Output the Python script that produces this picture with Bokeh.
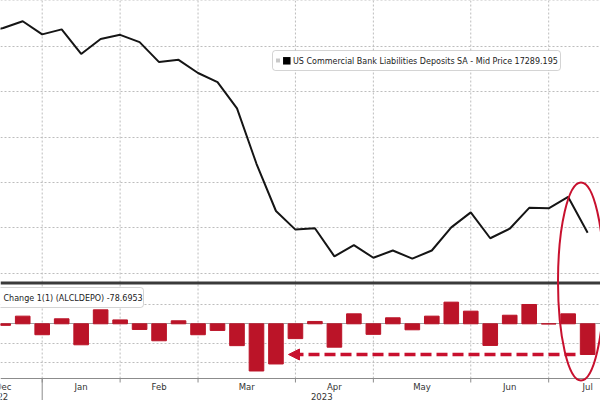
from bokeh.plotting import figure
from bokeh.models import (Range1d, FixedTicker, Grid, Span, Label, BoxAnnotation,
                          Arrow, NormalHead)
from bokeh.core.properties import value
from bokeh.embed import file_html
from bokeh.resources import INLINE

# ---------------- data ----------------
# x = week index (0 = first weekly reading of January 2023)
level_weeks = list(range(-3, 29))
level_values = [17730, 17740, 17755, 17726, 17737, 17683, 17716, 17725, 17709, 17665,
                17670, 17641, 17621, 17563, 17441, 17337, 17296, 17299, 17237, 17262,
                17234, 17250, 17232, 17250, 17301, 17334, 17277, 17298, 17344, 17343,
                17368, 17289.195]

change_weeks = list(range(-2, 29))
change_values = [-4, 19.6, -28, 12.8, -53.8, 35.8, 10, -14.5, -43.5, 7.7,
                  -28, -17, -56, -121, -103, -38, 6, -60, 25.6, -27,
                  15.4, -15.4, 19.6, 55.5, 32.4, -55.5, 22, 49.5, -0.5, 25.6,
                  -78.6953]

month_labels = ["Dec", "Jan", "Feb", "Mar", "Apr", "May", "Jun", "Jul"]
month_starts = [-4, 0, 4, 8, 13, 17, 22, 26, 30]   # first weekly reading of each month
year_labels = ["2022", "2023"]
year_centers = [-2.3, 14.35]

level_grid = [17200, 17300, 17400, 17500, 17600, 17700, 17800]
change_grid = [-100, -50, 50]

level_legend = "US Commercial Bank Liabilities Deposits SA - Mid Price 17289.195"
change_legend = "Change 1(1) (ALCLDEPO) -78.6953"

# ---------------- layout constants ----------------
W, H = 600, 400
AXIS_PY = 378                         # pixel row of the x axis line
X0_PX, WEEK_PX = 41.7, 19.48          # pixel of week 0, pixels per week
TOP_END, MAIN_PER_PX = 17800.66, 2.2026
ZERO_PY, CHG_PER_PX = 323.3, 2.564
RED = "#c8102e"
BAR_RED = "#bb1428"
GRID_C = "#bdbdbd"
AXIS_C = "#8c8c8c"
FONT = "DejaVu Sans"


def xw(px):
    return (px - X0_PX) / WEEK_PX


def ym(py):
    return TOP_END - py * MAIN_PER_PX


def yc(py):
    return (ZERO_PY - py) * CHG_PER_PX


p = figure(width=W, height=H, output_backend="svg", toolbar_location=None,
           x_range=Range1d(xw(0), xw(W)), y_range=Range1d(ym(H), ym(0)),
           x_axis_location=None, y_axis_location=None, min_border=0,
           outline_line_color=None, background_fill_color="white",
           border_fill_color="white")
p.extra_y_ranges = {"chg": Range1d(yc(H), yc(0))}

# horizontal grids
p.xgrid.visible = False
p.ygrid.ticker = FixedTicker(ticks=level_grid)
p.ygrid.grid_line_color = GRID_C
p.ygrid.grid_line_dash = "2 2"
p.add_layout(Grid(dimension=1, ticker=FixedTicker(ticks=change_grid), y_range_name="chg",
                  grid_line_color=GRID_C, grid_line_dash="2 2"))
p.add_layout(Grid(dimension=1, ticker=FixedTicker(ticks=[0]), y_range_name="chg",
                  grid_line_color="#a0a0a0", grid_line_width=1))

# vertical month gridlines (stop at the axis line)
inner = month_starts[1:-1]
p.segment(x0=inner, x1=inner, y0=[ym(AXIS_PY)] * len(inner), y1=[ym(0)] * len(inner),
          line_color=GRID_C, line_dash="2 2", line_width=1)

# data marks
p.vbar(x=change_weeks, top=change_values, bottom=0, width=0.75, y_range_name="chg",
       fill_color=BAR_RED, line_color=BAR_RED)
p.line(level_weeks, level_values, line_color="#151515", line_width=2)

# panel separator
p.add_layout(Span(location=ym(282.5), dimension="width", line_color="#3a3a3a", line_width=3))

# x axis: line, ticks at month boundaries, month labels centred in each month
p.add_layout(Span(location=ym(AXIS_PY), dimension="width", line_color=AXIS_C, line_width=1))
p.segment(x0=inner, x1=inner, y0=[ym(AXIS_PY)] * len(inner), y1=[ym(AXIS_PY + 4)] * len(inner),
          line_color=AXIS_C, line_width=1)
p.segment(x0=[month_starts[1]], x1=[month_starts[1]], y0=[ym(AXIS_PY)], y1=[ym(H)],
          line_color=AXIS_C, line_width=1)
centers = [(a + b) / 2 for a, b in zip(month_starts[:-1], month_starts[1:])]
p.text(x=centers, y=[ym(386.5)] * len(centers), text=month_labels, text_align="center",
       text_baseline="middle", text_font=value(FONT), text_font_size=value("8.5px"),
       text_color="#333333")
p.text(x=year_centers, y=[ym(396)] * len(year_centers), text=year_labels,
       text_align="center", text_baseline="middle", text_font=value(FONT),
       text_font_size=value("8.5px"), text_color="#333333")

# legend boxes
p.add_layout(BoxAnnotation(left=xw(272), right=xw(560), top=ym(50), bottom=ym(70),
                           fill_color="white", fill_alpha=1, line_color="#707070",
                           line_width=1, border_radius=3))
p.scatter([xw(277.5)], [ym(60)], marker="square", size=4, fill_color="#c8c8c8",
          line_color=None, level="overlay")
p.scatter([xw(286.3)], [ym(60.3)], marker="square", size=7.5, fill_color="black",
          line_color=None, level="overlay")
p.add_layout(Label(x=xw(292.5), y=ym(60.5), text=level_legend, text_align="left",
                   text_baseline="middle", text_font=FONT, text_font_size="8px",
                   text_color="#222222"))

p.add_layout(BoxAnnotation(left=xw(-6), right=xw(143), top=ym(287), bottom=ym(307),
                           fill_color="white", fill_alpha=1, line_color="#707070",
                           line_width=1, border_radius=3))
p.add_layout(Label(x=xw(3), y=ym(297.5), text=change_legend, text_align="left",
                   text_baseline="middle", text_font=FONT, text_font_size="8px",
                   text_color="#222222"))

# annotations: red ellipse and dashed arrow at the latest change level
p.ellipse(x=xw(580.5), y=ym(281), width=46 / WEEK_PX, height=198 * MAIN_PER_PX,
          fill_alpha=0, line_color=RED, line_width=2, level="overlay")
p.add_layout(Arrow(end=NormalHead(size=11, fill_color=RED, line_color=RED),
                   x_start=xw(575), y_start=change_values[-1],
                   x_end=xw(288), y_end=change_values[-1], y_range_name="chg",
                   line_color=RED, line_width=3.5, line_dash="11 5"))

open("out.html", "w").write(file_html(p, INLINE))
